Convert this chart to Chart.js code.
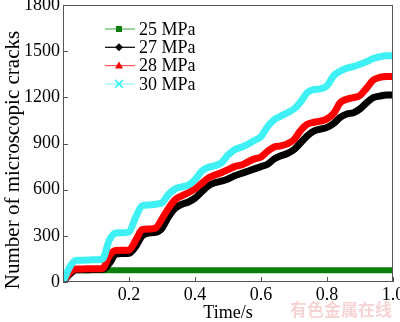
<!DOCTYPE html>
<html>
<head>
<meta charset="utf-8">
<script src="https://cdn.jsdelivr.net/npm/chart.js@4.4.1/dist/chart.umd.min.js"></script>
<style>
  html, body { margin: 0; padding: 0; background: #fff; }
</style>
</head>
<body>
<canvas id="cracks" width="400" height="322"></canvas>
<script>
// time axis (s)
const times = [0, 0.02, 0.04, 0.06, 0.08, 0.10, 0.12, 0.14, 0.16, 0.18, 0.20,
    0.22, 0.24, 0.26, 0.28, 0.30, 0.32, 0.34, 0.36, 0.38, 0.40,
    0.42, 0.44, 0.46, 0.48, 0.50, 0.52, 0.54, 0.56, 0.58, 0.60,
    0.62, 0.64, 0.66, 0.68, 0.70, 0.72, 0.74, 0.76, 0.78, 0.80,
    0.82, 0.84, 0.86, 0.88, 0.90, 0.92, 0.94, 0.96, 0.98, 1.00];

// number of microscopic cracks
const mpa25 = [0, 50, 76, 76, 76, 76, 76, 76, 76, 76, 76,
    76, 76, 76, 76, 76, 76, 76, 76, 76, 76,
    76, 76, 76, 76, 76, 76, 76, 76, 76, 76,
    76, 76, 76, 76, 76, 76, 76, 76, 76, 76,
    76, 76, 76, 76, 76, 76, 76, 76, 76, 76];
const mpa27 = [0, 50, 80, 80, 80, 81, 82, 120, 180, 185, 187,
    230, 300, 318, 322, 350, 425, 480, 505, 520, 545,
    585, 625, 645, 655, 670, 690, 705, 720, 735, 750,
    765, 800, 820, 835, 860, 905, 950, 980, 993, 1005,
    1030, 1070, 1092, 1100, 1125, 1165, 1198, 1208, 1215, 1215];
const mpa28 = [0, 60, 85, 85, 86, 86, 88, 170, 205, 206, 208,
    270, 340, 345, 350, 410, 480, 535, 560, 580, 605,
    640, 675, 695, 710, 730, 750, 760, 780, 800, 812,
    850, 878, 885, 898, 925, 985, 1025, 1038, 1045, 1060,
    1095, 1165, 1188, 1198, 1212, 1260, 1312, 1330, 1335, 1335];
const mpa30 = [0, 95, 142, 142, 143, 145, 150, 270, 318, 320, 325,
    420, 495, 500, 505, 515, 570, 605, 618, 630, 665,
    720, 745, 755, 775, 825, 860, 875, 895, 920, 945,
    1010, 1055, 1078, 1100, 1125, 1170, 1230, 1250, 1255, 1275,
    1340, 1370, 1390, 1400, 1415, 1432, 1452, 1464, 1470, 1470];

const seriesLabels = ['25 MPa', '27 MPa', '28 MPa', '30 MPa'];
const seriesValues = [mpa25, mpa27, mpa28, mpa30];
const seriesColors = ['#0b7d0b', '#000000', '#ff0000', '#3ff0f4'];
const legendLineColors = ['#5bb85b', '#000000', '#ff5555', '#8ff4f6'];
const markers = ['square', 'diamond', 'triangle', 'cross'];

function toPoints(vals) {
    return times.map((t, i) => ({x: t, y: vals[i]}));
}

function drawMarker(ctx, kind, x, y, color) {
    ctx.save();
    ctx.fillStyle = color;
    ctx.strokeStyle = color;
    ctx.lineWidth = 1.6;
    ctx.beginPath();
    if (kind == 'square') {
        ctx.fillRect(x - 3, y - 3, 6, 6);
    } else if (kind == 'diamond') {
        ctx.moveTo(x, y - 4); ctx.lineTo(x + 4, y); ctx.lineTo(x, y + 4); ctx.lineTo(x - 4, y);
        ctx.closePath(); ctx.fill();
    } else if (kind == 'triangle') {
        ctx.moveTo(x, y - 4); ctx.lineTo(x + 4, y + 3); ctx.lineTo(x - 4, y + 3);
        ctx.closePath(); ctx.fill();
    } else {
        ctx.moveTo(x - 4, y - 4); ctx.lineTo(x + 4, y + 4);
        ctx.moveTo(x + 4, y - 4); ctx.lineTo(x - 4, y + 4);
        ctx.stroke();
    }
    ctx.restore();
}

// frame, inward ticks, legend, y title and watermark
const extras = {
    id: 'extras',
    afterDraw(chart) {
        const ctx = chart.ctx;
        const a = chart.chartArea;
        const xs = chart.scales.x, ys = chart.scales.y;
        ctx.save();
        ctx.strokeStyle = '#555';
        ctx.lineWidth = 1;
        ctx.strokeRect(a.left + 0.5, a.top + 0.5, a.right - a.left - 1, a.bottom - a.top - 1);
        ctx.beginPath();
        xs.ticks.forEach((t) => {
            const px = Math.round(xs.getPixelForValue(t.value)) + 0.5;
            ctx.moveTo(px, a.bottom); ctx.lineTo(px, a.bottom - 5);
        });
        ys.ticks.forEach((t) => {
            const py = Math.round(ys.getPixelForValue(t.value)) + 0.5;
            ctx.moveTo(a.left, py); ctx.lineTo(a.left + 5, py);
        });
        ctx.stroke();

        // legend
        ctx.font = '18px "Liberation Serif"';
        ctx.textBaseline = 'middle';
        ctx.textAlign = 'left';
        for (var i = 0; i < seriesLabels.length; i++) {
            const y = 29 + i * 18.3;
            ctx.strokeStyle = legendLineColors[i];
            ctx.lineWidth = 1.2;
            ctx.beginPath();
            ctx.moveTo(105, y); ctx.lineTo(135, y);
            ctx.stroke();
            drawMarker(ctx, markers[i], 119, y, seriesColors[i]);
            ctx.fillStyle = '#000';
            ctx.fillText(seriesLabels[i], 139, y + 1);
        }

        // y axis title
        ctx.translate(13, 160);
        ctx.rotate(-Math.PI / 2);
        ctx.textAlign = 'center';
        ctx.font = '21px "Liberation Serif"';
        ctx.fillText('Number of microscopic cracks', 0, 0);
        ctx.restore();

        // watermark
        ctx.save();
        ctx.font = 'bold 17px "Noto Sans CJK SC"';
        ctx.fillStyle = 'rgba(240, 170, 170, 0.5)';
        ctx.textBaseline = 'middle';
        ctx.fillText('有色金属在线', 290, 310);
        ctx.restore();
    }
};

const ctxEl = document.getElementById('cracks');
new Chart(ctxEl, {
    type: 'line',
    data: {
        datasets: seriesLabels.map((label, i) => ({
            label: label,
            data: toPoints(seriesValues[i]),
            borderColor: seriesColors[i],
            backgroundColor: seriesColors[i],
            borderWidth: i == 0 ? 6 : 7,
            pointRadius: 0,
            cubicInterpolationMode: 'monotone',
            order: seriesLabels.length - 1 - i
        }))
    },
    options: {
        responsive: false,
        animation: false,
        devicePixelRatio: 1,
        layout: {padding: {top: 5, right: 7, left: 0, bottom: 0}},
        plugins: {legend: {display: false}, tooltip: {enabled: false}},
        scales: {
            x: {
                type: 'linear',
                min: 0, max: 1.0,
                grid: {display: false, drawTicks: false},
                border: {display: false},
                ticks: {
                    stepSize: 0.2,
                    padding: 2,
                    color: '#000',
                    font: {family: 'Liberation Serif', size: 18},
                    callback: (v) => v == 0 ? '' : v.toFixed(1)
                },
                title: {
                    display: true, text: 'Time/s', color: '#000',
                    font: {family: 'Liberation Serif', size: 18, lineHeight: 1.0},
                    padding: {top: 0, bottom: 0}
                },
                afterFit: (s) => { s.height = 40; s.paddingLeft = 0; s.paddingRight = 0; }
            },
            y: {
                min: 0, max: 1800,
                grid: {display: false, drawTicks: false},
                border: {display: false},
                ticks: {
                    stepSize: 300,
                    padding: 3,
                    color: '#000',
                    font: {family: 'Liberation Serif', size: 18},
                    callback: (v) => String(v)
                },
                afterFit: (s) => { s.width = 63; s.paddingTop = 0; s.paddingBottom = 0; }
            }
        }
    },
    plugins: [extras]
});
</script>
</body>
</html>
